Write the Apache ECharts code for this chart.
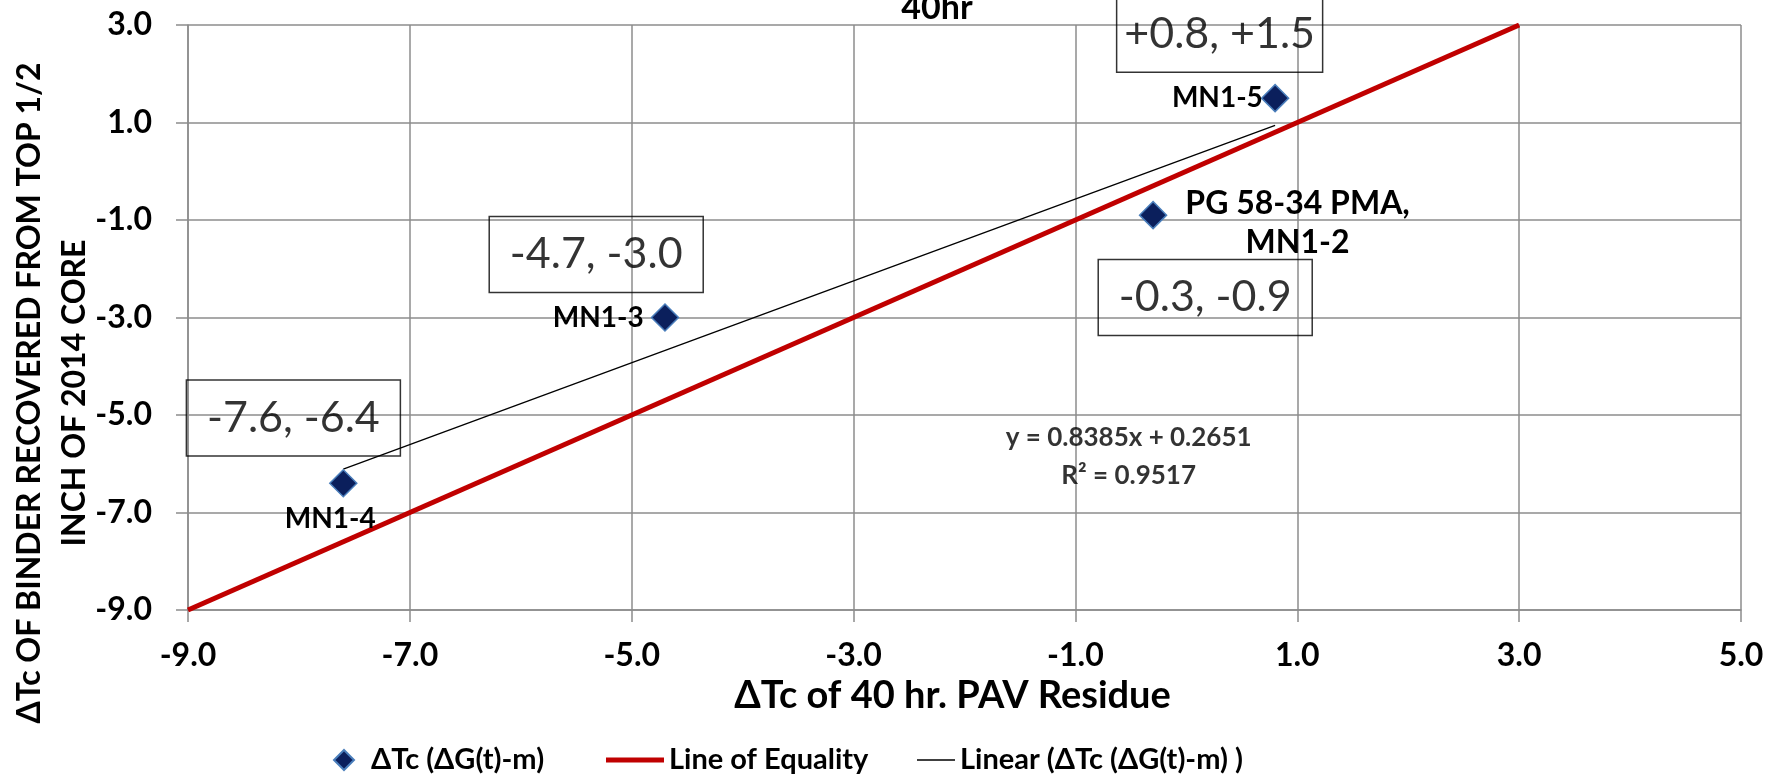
<!DOCTYPE html>
<html>
<head>
<meta charset="utf-8">
<title>ΔTc 40hr</title>
<script src="https://cdn.jsdelivr.net/npm/echarts@6/dist/echarts.min.js"></script>
<style>
  html, body { margin: 0; padding: 0; background: #fff; }
  #chart { width: 1781px; height: 776px; }
</style>
</head>
<body>
<div id="chart"></div>
<script>
// values
var sampleNames = ['MN1-4', 'MN1-3', 'PG 58-34 PMA,\nMN1-2', 'MN1-5']
var pavResidue = [-7.6, -4.7, -0.3, 0.8]
var coreBinder = [-6.4, -3.0, -0.9, 1.5]
var equalityX = [-9, 3]
var equalityY = [-9, 3]
var trendX = [-7.6, 0.8]
var trendY = [-6.11, 0.94]
var boxTexts = ['-7.6, -6.4', '-4.7, -3.0', '-0.3, -0.9', '+0.8, +1.5']
var equationText = 'y = 0.8385x + 0.2651\nR² = 0.9517'

// where the text boxes sit, in axis units
var boxAnchorX = [-8.05, -5.32, 0.17, 0.30]
var boxAnchorY = [-5.06, -1.71, -2.59, 2.81]
var boxWidths = [190, 190, 190, 182]
var equationAnchor = [-0.52, -5.86]

var FONT = 'Lato, "Noto Sans", sans-serif'
var GRID_COLOR = '#8c8c8c'

var labelFont = { fontFamily: FONT, fontWeight: 'bold', fontSize: 28, color: '#000', lineHeight: 39 }
var pgFont = Object.assign({}, labelFont, { fontSize: 32 })

var pointLabels = [
  { position: 'bottom', distance: 2, offset: [-13, 0] },
  { position: 'left', distance: 7 },
  { position: 'right', distance: 18, offset: [0, 8],
    formatter: '{a|PG 58-34 PMA,}\n{b|MN1-2}',
    rich: { a: pgFont, b: Object.assign({ align: 'center' }, pgFont) } },
  { position: 'left', distance: 0, offset: [2, 0] }
]

var points = pavResidue.map(function (x, i) {
  var lab = Object.assign({ show: true, formatter: sampleNames[i] }, labelFont, pointLabels[i])
  return { value: [x, coreBinder[i]], label: lab }
})

var equality = equalityX.map(function (x, i) { return [x, equalityY[i]] })
var trend = trendX.map(function (x, i) { return [x, trendY[i]] })

var notes = boxTexts.map(function (t, i) {
  return {
    value: [boxAnchorX[i], boxAnchorY[i]],
    label: {
      show: true, position: 'inside', formatter: t,
      fontFamily: FONT, fontSize: 43, color: '#000', lineHeight: 54,
      width: boxWidths[i], align: 'center',
      borderColor: '#000', borderWidth: 1.5, padding: [11, 12, 11, 12]
    }
  }
})
notes.push({
  value: equationAnchor,
  label: {
    show: true, position: 'inside', formatter: equationText,
    fontFamily: FONT, fontWeight: 'bold', fontSize: 26, color: '#000', lineHeight: 38
  }
})

var myChart = echarts.init(document.getElementById('chart'))

var axisLabelStyle = {
  fontFamily: FONT, fontWeight: 'bold', fontSize: 32, color: '#000',
  formatter: function (v) { return v.toFixed(1) }
}

var legendText = { fontFamily: FONT, fontWeight: 'bold', fontSize: 29, color: '#000', lineHeight: 30 }

myChart.setOption({
  animation: false,
  grid: { left: 188, right: 40, top: 25, bottom: 166 },
  xAxis: {
    type: 'value', min: -9, max: 5, interval: 2,
    name: 'ΔTc of 40 hr. PAV Residue',
    nameLocation: 'middle', nameGap: 66,
    nameTextStyle: { fontFamily: FONT, fontWeight: 'bold', fontSize: 38, color: '#000', padding: [0, 24, 0, 0] },
    axisLine: { onZero: false, lineStyle: { color: GRID_COLOR, width: 1.5 } },
    axisTick: { show: true, length: 12, lineStyle: { color: GRID_COLOR, width: 1.5 } },
    axisLabel: Object.assign({ margin: 30 }, axisLabelStyle),
    splitLine: { show: true, lineStyle: { color: GRID_COLOR, width: 1.5 } }
  },
  yAxis: {
    type: 'value', min: -9, max: 3, interval: 2,
    axisLine: { show: true, onZero: false, lineStyle: { color: GRID_COLOR, width: 1.5 } },
    axisTick: { show: true, length: 12, lineStyle: { color: GRID_COLOR, width: 1.5 } },
    axisLabel: Object.assign({ margin: 36 }, axisLabelStyle),
    splitLine: { show: true, lineStyle: { color: GRID_COLOR, width: 1.5 } }
  },
  legend: [
    {
      data: ['ΔTc (ΔG(t)-m)'], left: 333, top: 745, padding: 0, itemWidth: 20, itemHeight: 20,
      textStyle: Object.assign({ padding: [0, 0, 0, 12] }, legendText)
    },
    {
      data: ['Line of Equality'], left: 606, top: 745, padding: 0, itemWidth: 58, itemHeight: 5, icon: 'rect',
      textStyle: legendText
    },
    {
      data: ['Linear (ΔTc (ΔG(t)-m) )'], left: 917, top: 745, padding: 0, itemWidth: 38, itemHeight: 1.5, icon: 'rect',
      textStyle: legendText
    }
  ],
  graphic: [
    {
      type: 'text', x: 937, y: 8,
      style: { text: '40hr', font: 'bold 34px ' + FONT, fill: '#000', align: 'center', verticalAlign: 'middle' }
    },
    {
      type: 'text', x: 52, y: 393, rotation: Math.PI / 2,
      style: {
        text: 'ΔTc OF BINDER RECOVERED FROM TOP 1/2\nINCH OF 2014 CORE',
        font: 'bold 32px ' + FONT, lineHeight: 45, fill: '#000',
        align: 'center', verticalAlign: 'middle'
      }
    }
  ],
  series: [
    {
      name: 'Line of Equality', type: 'line', data: equality,
      symbol: 'none', lineStyle: { color: '#c00000', width: 5 }, itemStyle: { color: '#c00000' }, z: 2
    },
    {
      name: 'Linear (ΔTc (ΔG(t)-m) )', type: 'line', data: trend,
      symbol: 'none', lineStyle: { color: '#000', width: 1.3 }, itemStyle: { color: '#000' }, z: 3
    },
    {
      name: 'ΔTc (ΔG(t)-m)', type: 'scatter', data: points,
      symbol: 'diamond', symbolSize: 27,
      itemStyle: { color: '#0b1f5c', borderColor: '#4a7ebb', borderWidth: 1.5, opacity: 1 }, z: 4
    },
    {
      name: 'notes', type: 'scatter', data: notes, symbolSize: 0.1, silent: true,
      itemStyle: { color: 'rgba(0,0,0,0)' }, z: 5
    }
  ]
})
</script>
</body>
</html>
